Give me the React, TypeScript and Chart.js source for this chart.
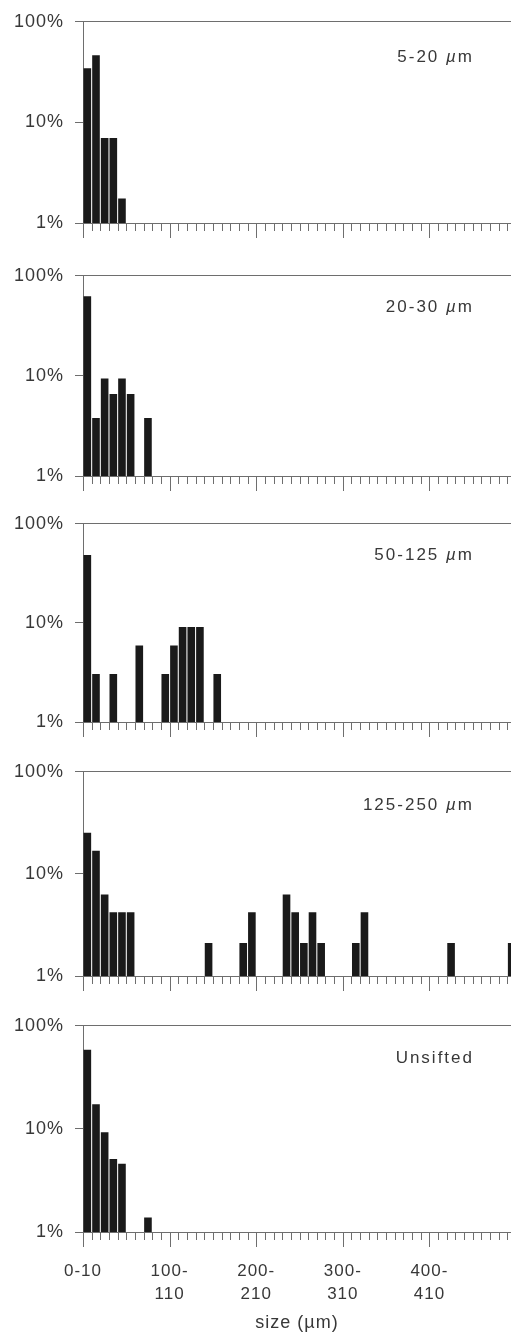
import React, { useEffect, useRef } from 'react';
import { Chart, registerables } from 'chart.js';

Chart.register(...registerables);

// ---- data ----
const categories = [
  '0-10', '10-20', '20-30', '30-40', '40-50', '50-60', '60-70', '70-80', '80-90', '90-100',
  '100-110', '110-120', '120-130', '130-140', '140-150', '150-160', '160-170', '170-180', '180-190', '190-200',
  '200-210', '210-220', '220-230', '230-240', '240-250', '250-260', '260-270', '270-280', '280-290', '290-300',
  '300-310', '310-320', '320-330', '330-340', '340-350', '350-360', '360-370', '370-380', '380-390', '390-400',
  '400-410', '410-420', '420-430', '430-440', '440-450', '450-460', '460-470', '470-480', '480-490', '490-500',
];

const yTicks = [1, 10, 100];
const xTickLabels: (string | string[])[] = ['0-10', ['100-', '110'], ['200-', '210'], ['300-', '310'], ['400-', '410']];

// percentage of particles per size bin (bins not listed are empty)
const sieved5to20 = [34.5, 46.5, 7, 7, 1.75];
const sieved20to30 = [62.5, 3.8, 9.4, 6.6, 9.4, 6.6, 0, 3.8];
const sieved50to125 = [48.5, 3.05, 0, 3.05, 0, 0, 5.9, 0, 0, 3.05, 5.9, 9.1, 9.1, 9.1, 0, 3.05];
const sieved125to250 = [
  25.3, 16.9, 6.3, 4.2, 4.2, 4.2, 0, 0, 0, 0,
  0, 0, 0, 0, 2.1, 0, 0, 0, 2.1, 4.2,
  0, 0, 0, 6.3, 4.2, 2.1, 4.2, 2.1, 0, 0,
  0, 2.1, 4.2, 0, 0, 0, 0, 0, 0, 0,
  0, 0, 2.1, 0, 0, 0, 0, 0, 0, 2.1,
];
const unsifted = [58.5, 17.3, 9.3, 5.1, 4.6, 0, 0, 1.38];

const panelNames = ['5-20', '20-30', '50-125', '125-250', 'Unsifted'];
const panelSeries = [sieved5to20, sieved20to30, sieved50to125, sieved125to250, unsifted];

// ---- layout / style ----
const W = 511;
const H = 1338;
const PLOT_LEFT = 83;
const X_MAX = 49.42;
const panelLayout = [
  { top: 15, bottom: 223, labelOffset: 42 },
  { top: 269, bottom: 476, labelOffset: 38 },
  { top: 517, bottom: 722, labelOffset: 38 },
  { top: 765, bottom: 976, labelOffset: 40 },
  { top: 1019, bottom: 1232, labelOffset: 39 },
];
const AXIS = '#6e6e6e';
const TEXT = '#383838';
const BAR = '#1a1a1a';
const FONT = '"Liberation Sans", Arial, Helvetica, sans-serif';

const spacingPlugin = {
  id: 'letterSpacing',
  beforeDraw(chart: any) {
    try {
      chart.ctx.letterSpacing = '1px';
    } catch (e) {}
  },
};

const minorTickPlugin = {
  id: 'minorTicks',
  afterDraw(chart: any) {
    const xs = chart.scales.x;
    const { bottom, right } = chart.chartArea;
    const ctx = chart.ctx;
    ctx.save();
    ctx.strokeStyle = AXIS;
    ctx.lineWidth = 1;
    for (let k = 0; k < categories.length; k++) {
      const px = Math.round(xs.getPixelForValue(k)) + 0.5;
      if (px > right + 1) break;
      const len = k % 10 === 0 ? 15 : 8;
      ctx.beginPath();
      ctx.moveTo(px, bottom);
      ctx.lineTo(px, bottom + len);
      ctx.stroke();
    }
    ctx.restore();
  },
};

function Panel({ index }: { index: number }) {
  const ref = useRef<HTMLCanvasElement>(null);
  const isLast = index === panelLayout.length - 1;
  const { top, bottom, labelOffset } = panelLayout[index];
  const canvasTop = top - 15;
  const plotH = bottom - top;
  const height = isLast ? H - canvasTop : plotH + 15 + 25;
  const xHeight = height - 15 - plotH;
  const values = panelSeries[index];

  useEffect(() => {
    if (!ref.current) return;
    const chart = new Chart(ref.current, {
      type: 'bar',
      data: {
        labels: categories,
        datasets: [
          {
            label: panelNames[index],
            data: values.map((v, i) => ({ x: i + 0.5, y: v > 0 ? v : null })) as any,
            backgroundColor: BAR,
            borderWidth: 0,
            barPercentage: 0.88,
            categoryPercentage: 1,
          },
        ],
      },
      options: {
        responsive: false,
        animation: false,
        devicePixelRatio: 1,
        events: [],
        layout: { padding: { top: 15, left: 0, right: 0, bottom: 0 } },
        plugins: {
          legend: { display: false },
          tooltip: { enabled: false },
          title: { display: false },
        },
        scales: {
          x: {
            type: 'linear',
            min: 0,
            max: X_MAX,
            offset: false,
            grid: { display: false, drawTicks: false },
            border: { display: true, color: AXIS, width: 1 },
            afterBuildTicks: (s: any) => {
              s.ticks = xTickLabels.map((_, i) => ({ value: i * 10 }));
            },
            ticks: {
              display: isLast,
              autoSkip: false,
              maxRotation: 0,
              minRotation: 0,
              padding: 27,
              color: TEXT,
              font: { family: FONT, size: 17, lineHeight: 1.4 },
              callback: (v: any) => {
                const i = Math.round(Number(v) / 10);
                return Number(v) % 10 === 0 && xTickLabels[i] !== undefined ? xTickLabels[i] : '';
              },
            },
            title: {
              display: isLast,
              text: 'size (µm)',
              color: TEXT,
              font: { family: FONT, size: 18, lineHeight: 1.2 },
              padding: { top: 0, bottom: 4 },
            },
            afterFit: (s: any) => {
              s.height = xHeight;
            },
          } as any,
          y: {
            type: 'logarithmic',
            min: 1,
            max: 100,
            grid: {
              display: true,
              drawOnChartArea: true,
              drawTicks: true,
              tickLength: 8,
              tickColor: AXIS,
              color: (c: any) => (c.tick && c.tick.value === 100 ? AXIS : 'rgba(0,0,0,0)'),
            },
            border: { display: true, color: AXIS, width: 1 },
            afterBuildTicks: (s: any) => {
              s.ticks = yTicks.map((v) => ({ value: v }));
            },
            ticks: {
              padding: 11,
              color: TEXT,
              font: { family: FONT, size: 18 },
              callback: (v: any) => `${v}%`,
            },
            afterFit: (s: any) => {
              s.width = PLOT_LEFT;
            },
          } as any,
        },
      },
      plugins: [spacingPlugin, minorTickPlugin],
    });
    return () => chart.destroy();
  }, []);

  const name = panelNames[index];
  const labelCenter = top + labelOffset;

  return (
    <>
      <canvas
        ref={ref}
        width={W}
        height={height}
        style={{ position: 'absolute', left: 0, top: canvasTop, width: W, height }}
      />
      <div
        style={{
          position: 'absolute',
          right: W - 474,
          top: labelCenter - 10,
          lineHeight: '20px',
          fontFamily: FONT,
          fontSize: 17,
          letterSpacing: '2px',
          color: TEXT,
          whiteSpace: 'nowrap',
        }}
      >
        {name === 'Unsifted' ? (
          name
        ) : (
          <>
            {name} <span style={{ fontStyle: 'italic' }}>µ</span>m
          </>
        )}
      </div>
    </>
  );
}

export default function App() {
  return (
    <div
      style={{
        position: 'absolute',
        left: 0,
        top: 0,
        width: W,
        height: H,
        overflow: 'hidden',
        background: '#ffffff',
      }}
    >
      {panelLayout.map((_, i) => (
        <Panel key={i} index={i} />
      ))}
    </div>
  );
}
